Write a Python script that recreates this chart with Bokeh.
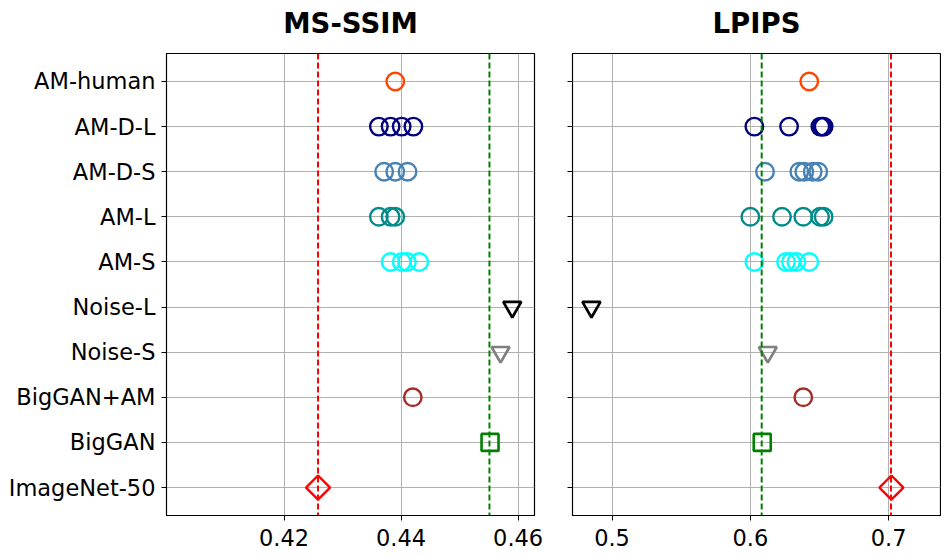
import math
from bokeh.plotting import figure
from bokeh.layouts import row, column
from bokeh.models import Range1d, FixedTicker, Span
from bokeh.core.properties import value
from bokeh.embed import file_html
from bokeh.resources import INLINE

categories = ["AM-human", "AM-D-L", "AM-D-S", "AM-L", "AM-S",
              "Noise-L", "Noise-S", "BigGAN+AM", "BigGAN", "ImageNet-50"]
colors = ["orangered", "navy", "steelblue", "darkcyan", "cyan",
          "black", "gray", "brown", "green", "red"]
markers = ["circle", "circle", "circle", "circle", "circle",
           "inverted_triangle", "inverted_triangle", "circle", "square", "diamond"]

msssim = {
    "AM-human": [0.439],
    "AM-D-L": [0.4362, 0.4382, 0.4401, 0.4421],
    "AM-D-S": [0.4371, 0.4390, 0.4411],
    "AM-L": [0.4362, 0.4382, 0.4390],
    "AM-S": [0.4382, 0.4401, 0.4410, 0.4431],
    "Noise-L": [0.4590],
    "Noise-S": [0.4570],
    "BigGAN+AM": [0.4420],
    "BigGAN": [0.4552],
    "ImageNet-50": [0.4258],
}
lpips = {
    "AM-human": [0.6426],
    "AM-D-L": [0.6029, 0.6280, 0.6506, 0.6520, 0.6530],
    "AM-D-S": [0.6106, 0.6354, 0.6390, 0.6451, 0.6491],
    "AM-L": [0.6000, 0.6229, 0.6383, 0.6504, 0.6530],
    "AM-S": [0.6029, 0.6258, 0.6294, 0.6333, 0.6426],
    "Noise-L": [0.4851],
    "Noise-S": [0.6126],
    "BigGAN+AM": [0.6383],
    "BigGAN": [0.6086],
    "ImageNet-50": [0.7020],
}
ms_ref_red, ms_ref_green = 0.4258, 0.4551
lp_ref_red, lp_ref_green = 0.7017, 0.6082

ms_ticks = [0.42, 0.44, 0.46]
lp_ticks = [0.5, 0.6, 0.7]
ms_xlim = (0.3999, 0.4628)
lp_xlim = (0.4714, 0.7375)
titles = ["MS-SSIM", "LPIPS"]

FONT = "DejaVu Sans"
TITLE_H = 45


def make_title(text, width, left_border, right_border):
    t = figure(width=width, height=TITLE_H, output_backend="svg", toolbar_location=None,
               x_range=Range1d(0, width), y_range=Range1d(0, TITLE_H),
               x_axis_type=None, y_axis_type=None,
               min_border_left=0, min_border_right=0, min_border_top=0, min_border_bottom=0)
    t.outline_line_color = None
    t.grid.visible = False
    cx = left_border + (width - left_border - right_border) / 2
    t.text(x=[cx], y=[TITLE_H - 22], text=[text], text_align="center", text_baseline="middle",
           text_font=value(FONT), text_font_size="27.5px", text_font_style="bold",
           text_color="black")
    return t


def make_panel(data, xlim, ticks, red, green, width, left_border, right_border, show_labels):
    p = figure(width=width, height=505, output_backend="svg", toolbar_location=None,
               x_range=Range1d(*xlim), y_range=Range1d(len(categories) - 1 + 0.62, -0.62),
               min_border_left=left_border, min_border_right=right_border,
               min_border_top=8, min_border_bottom=35)
    p.outline_line_color = "black"
    p.outline_line_width = 1.2
    p.outline_line_alpha = 1.0
    p.background_fill_color = "white"
    p.border_fill_color = "white"

    p.xaxis.ticker = FixedTicker(ticks=ticks)
    p.xaxis.major_label_overrides = {t: ("%g" % t) for t in ticks}
    p.yaxis.ticker = FixedTicker(ticks=list(range(len(categories))))
    if show_labels:
        p.yaxis.major_label_overrides = {i: c for i, c in enumerate(categories)}
    else:
        p.yaxis.major_label_overrides = {i: "" for i in range(len(categories))}
    for ax in (p.xaxis, p.yaxis):
        ax.major_label_text_font = FONT
        ax.major_label_text_font_size = "22.5px"
        ax.major_label_text_color = "black"
        ax.major_tick_out = 5
        ax.major_tick_in = 0
        ax.minor_tick_out = 0
        ax.minor_tick_in = 0
        ax.axis_line_color = "black"
        ax.major_tick_line_color = "black"
        ax.major_label_standoff = 6
    p.xaxis.major_label_standoff = 8
    p.grid.grid_line_color = "#b0b0b0"
    p.grid.grid_line_width = 1

    p.add_layout(Span(location=red, dimension="height", line_color="red",
                      line_dash="6 3", line_width=2))
    p.add_layout(Span(location=green, dimension="height", line_color="green",
                      line_dash="6 3", line_width=2))

    for i, cat in enumerate(categories):
        xs = data[cat]
        ys = [i] * len(xs)
        m = markers[i]
        if m == "circle":
            p.scatter(xs, ys, marker="circle", size=17.5, fill_color=None,
                      line_color=colors[i], line_width=2.4)
        elif m == "inverted_triangle":
            p.scatter(xs, ys, marker="inverted_triangle", size=18, fill_color=None,
                      line_color=colors[i], line_width=2.7)
        elif m == "square":
            p.scatter(xs, ys, marker="square", size=17, fill_color=None,
                      line_color=colors[i], line_width=2.6)
        else:
            p.scatter(xs, ys, marker="square", size=17, angle=math.pi / 4,
                      fill_color=None, line_color=colors[i], line_width=2.4)
    return p


t1 = make_title(titles[0], 553, 166, 19)
t2 = make_title(titles[1], 388, 19, 1)
p1 = make_panel(msssim, ms_xlim, ms_ticks, ms_ref_red, ms_ref_green, 553, 166, 19, True)
p2 = make_panel(lpips, lp_xlim, lp_ticks, lp_ref_red, lp_ref_green, 388, 19, 1, False)

layout = column(row(t1, t2), row(p1, p2))
open("out.html", "w").write(file_html(layout, INLINE))
